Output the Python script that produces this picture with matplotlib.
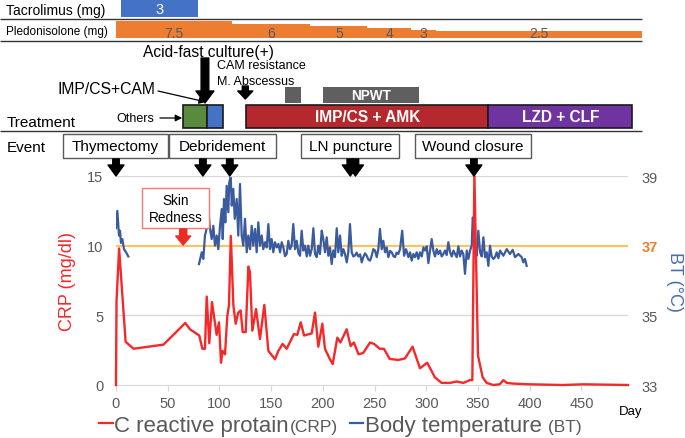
import matplotlib.pyplot as plt
from matplotlib.patches import Rectangle
from matplotlib.lines import Line2D
from matplotlib.offsetbox import AnchoredOffsetbox, HPacker, TextArea, DrawingArea

plt.rcParams['font.family'] = ['Liberation Sans', 'DejaVu Sans']

# ---------------- values ----------------
# C reactive protein (mg/dl)
crp_day = [0, 0.5, 3, 9.3, 17, 46, 67, 71.5, 80.5, 83.5,
           86, 87.7, 90.2, 92.8, 97.3, 99.6, 101.5, 103, 105.4, 107.6,
           109.2, 111, 113.5, 115.7, 118.2, 120.5, 122.5, 125.4, 128, 129.5,
           131.8, 135.4, 139.2, 143.4, 147.3, 153.7, 157, 161.1, 165, 172,
           175.3, 178.6, 181.8, 189.2, 192.4, 195.6, 199.5, 202, 206.5, 209.5,
           214, 217, 223, 226.8, 230, 234.5, 239, 245.6, 249.5, 255,
           259, 264.6, 272.8, 279.3, 286.7, 293.9, 300.9, 308.3, 314.8, 322.9,
           329.3, 335.8, 342.2, 344.5, 346.5, 350, 354.5, 358.4, 364.7, 371,
           374.5, 377.8, 384, 400, 432, 452, 495]
crp_val = [0, 6.0, 9.8, 3.1, 2.6, 2.9, 4.45, 4.0, 3.55, 2.6,
           2.6, 6.35, 3.0, 5.95, 3.6, 4.5, 1.6, 2.45, 2.2, 4.95,
           5.7, 10.7, 5.7, 4.4, 5.2, 5.35, 3.8, 3.8, 8.5, 8.1,
           3.9, 5.45, 3.3, 5.75, 2.45, 1.85, 2.45, 2.95, 2.6, 3.65,
           3.6, 4.5, 3.55, 3.7, 5.2, 2.75, 4.4, 2.6, 1.9, 1.5,
           3.4, 3.05, 4.0, 2.8, 3.05, 2.2, 2.3, 3.05, 2.95, 2.6,
           2.6, 1.87, 1.8, 1.9, 2.75, 1.2, 1.6, 0.55, 0.15, 0.15,
           0.25, 0.15, 0.35, 0.35, 15.0, 2.1, 0.55, 0.15, 0.0, 0.05,
           0.35, 0.15, 0.1, 0.05, 0.0, 0.05, 0.0]

# body temperature (deg C), two recorded periods
bt1_day = [0, 1.3, 2.9, 3.9, 4.8, 6.1, 7.7, 9.7, 11.9]
bt1_val = [37.5, 38.0, 37.29, 37.43, 37.08, 37.19, 36.9, 36.81, 36.69]

bt2_day = [80.2, 81.2, 82.9, 84.4, 86.0, 87.7, 89.2, 90.9, 92.5, 94.1,
           95.7, 97.4, 98.9, 100.6, 102.2, 103.2, 104.4, 105.7, 107.0, 108.6,
           109.5, 110.9, 111.9, 113.4, 114.8, 116.7, 118.2, 119.9, 121.5, 123.1,
           124.7, 126.4, 127.9, 129.6, 131.2, 132.7, 134.4, 136.0, 137.6, 139.2,
           140.9, 142.4, 144.1, 145.7, 147.3, 148.9, 150.5, 152.1, 153.7, 155.4,
           157.0, 158.6, 160.2, 161.8, 163.4, 165.0, 166.6, 168.2, 169.8, 171.4,
           173.1, 174.7, 176.3, 177.9, 179.5, 181.1, 182.7, 184.4, 185.9, 187.6,
           189.2, 190.8, 192.4, 194.0, 195.6, 197.2, 198.9, 200.4, 202.1, 203.7,
           205.3, 206.9, 208.5, 210.1, 211.7, 213.4, 214.9, 216.6, 218.2, 219.8,
           221.4, 223.1, 224.6, 226.2, 227.9, 229.4, 231.1, 232.7, 234.3, 236.0,
           237.6, 239.1, 240.8, 242.4, 244.0, 245.6, 247.2, 248.8, 250.4, 252.1,
           253.6, 255.2, 256.9, 258.4, 260.1, 261.7, 263.3, 265.0, 266.6, 268.2,
           269.7, 271.3, 272.9, 274.6, 276.7, 278.5, 280.4, 282.7, 284.3, 285.9,
           287.5, 289.1, 290.7, 292.3, 293.9, 295.6, 297.2, 298.8, 300.4, 302.0,
           303.6, 305.2, 306.8, 308.4, 310.1, 311.7, 313.3, 314.9, 316.5, 318.1,
           319.7, 321.3, 323.0, 324.6, 326.2, 327.8, 329.4, 331.0, 332.6, 334.2,
           335.8, 337.4, 339.1, 340.7, 342.3, 343.9, 344.9, 346.2, 347.4, 348.7,
           350.3, 352.0, 353.6, 355.2, 356.8, 358.4, 360.0, 361.6, 363.2, 364.8,
           366.5, 368.1, 369.7, 371.3, 374.5, 377.7, 380.9, 383.5, 385.8, 389.0,
           392.2, 393.8, 395.4, 397.0]
bt2_val = [36.47, 36.60, 36.81, 36.62, 37.29, 37.50, 38.05, 37.48, 37.19, 37.57,
           37.00, 37.29, 36.90, 37.57, 38.05, 37.19, 38.34, 37.67, 38.72, 37.96,
           38.82, 39.00, 38.15, 38.63, 37.77, 38.34, 37.29, 38.77, 37.29, 37.00,
           37.77, 36.81, 37.29, 36.90, 37.57, 37.00, 37.48, 36.81, 37.67, 37.00,
           37.29, 36.90, 37.10, 36.95, 37.62, 36.90, 37.19, 36.81, 37.10, 36.95,
           37.05, 36.81, 37.10, 36.95, 36.70, 36.76, 37.14, 36.90, 37.00, 37.62,
           36.90, 37.14, 36.80, 36.71, 37.43, 36.86, 37.00, 36.69, 37.00, 36.71,
           36.90, 37.50, 36.76, 36.67, 37.00, 36.76, 37.43, 37.19, 36.81, 37.24,
           36.71, 36.95, 36.47, 36.86, 36.67, 37.50, 36.81, 37.29, 36.71, 36.90,
           36.76, 36.52, 36.81, 37.62, 36.81, 36.69, 36.72, 36.80, 36.69, 36.75,
           36.52, 36.67, 36.78, 36.71, 36.60, 36.57, 36.71, 36.90, 36.86, 36.67,
           36.90, 37.48, 36.90, 37.14, 36.81, 36.95, 36.67, 36.85, 36.81, 36.70,
           36.67, 36.80, 36.76, 36.90, 37.43, 36.71, 36.90, 36.67, 36.81, 36.57,
           36.76, 36.67, 36.81, 36.62, 36.81, 36.69, 36.95, 36.86, 36.98, 36.50,
           36.86, 37.19, 36.86, 36.69, 36.90, 36.76, 36.86, 36.69, 36.76, 36.86,
           36.73, 37.10, 36.81, 36.69, 36.86, 36.76, 36.67, 36.98, 36.69, 36.86,
           36.76, 36.19, 36.86, 36.62, 36.86, 37.00, 37.81, 37.62, 36.95, 36.71,
           37.43, 36.81, 36.69, 37.24, 36.67, 36.81, 36.42, 37.00, 36.69, 36.62,
           36.67, 36.81, 36.64, 36.86, 36.71, 36.90, 36.76, 36.88, 36.67, 36.76,
           36.67, 36.52, 36.62, 36.42]

# drugs (days)
tac_start, tac_end, tac_dose = 5, 79, 3
pred_start = [0, 112, 188, 243, 285, 309]
pred_end = [112, 188, 243, 285, 309, 509]
pred_dose = [7.5, 6, 5, 4, 3, 2.5]

treat_start = [65, 88, 126, 360]
treat_end = [88, 103.5, 360, 499]
treat_label = ['', '', 'IMP/CS + AMK', 'LZD + CLF']
treat_color = ['#5A8A3C', '#4472C4', '#B5282E', '#7034A0']

npwt_start = [163, 200]
npwt_end = [179, 293]
npwt_label = ['', 'NPWT']

event_label = ['Thymectomy', 'Debridement', 'LN puncture', 'Wound closure']
event_left = [-51, 51, 179, 289]
event_right = [50, 155, 274, 401]
event_day = [0, 84, 110, 226.5, 231.5, 346]

acid_fast_day = 86
abscessus_day = 125
redness_day = 65

# ---------------- figure ----------------
W, H = 685, 439
x0, x1, y_top, y_bot = 116, 628, 177, 386
GRAY = '#595959'
RED = '#F5282A'
BLUE = '#3A5B9E'

fig = plt.figure(figsize=(W / 100, H / 100), dpi=100)
ax = fig.add_axes([x0 / W, 1 - y_bot / H, (x1 - x0) / W, (y_bot - y_top) / H])
ax2 = ax.twinx()
ax.set_zorder(ax2.get_zorder() + 1)
ax.patch.set_visible(False)

ax.set_xlim(0, 495)
ax.set_ylim(0, 15)
ax2.set_ylim(33, 39)

for y in [5, 15]:
    ax.axhline(y, color='#D9D9D9', lw=1, zorder=0.5)
ax2.axhline(37, color='#F8C46A', lw=1.6, zorder=1)

ax.plot(crp_day, crp_val, color=RED, lw=1.7, zorder=3, clip_on=False)
ax2.plot(bt1_day, bt1_val, color=BLUE, lw=1.6, zorder=2)
ax2.plot(bt2_day, bt2_val, color=BLUE, lw=1.6, zorder=2)

for s in ax.spines.values():
    s.set_visible(False)
for s in ax2.spines.values():
    s.set_visible(False)
ax.spines['bottom'].set_visible(True)
ax.spines['bottom'].set_color('#D9D9D9')

ax.set_xticks(range(0, 451, 50))
ax.set_yticks([0, 5, 10, 15])
ax2.set_yticks([33, 35, 37, 39])
ax.tick_params(axis='x', length=4, color='#D9D9D9', labelcolor=GRAY, labelsize=10.5, pad=4)
ax.tick_params(axis='y', length=0, labelcolor=GRAY, labelsize=10.5, pad=9)
ax2.tick_params(axis='y', length=0, labelcolor=GRAY, labelsize=10.5, pad=10)
t37 = ax2.get_yticklabels()[2]
t37.set_color('#ED7D31')
t37.set_fontweight('bold')

# ---------------- overlay for the timeline rows ----------------
ann = fig.add_axes([0, 0, 1, 1], zorder=5)
ann.patch.set_visible(False)
ann.axis('off')
span = 495 / (x1 - x0)
ann.set_xlim(-x0 * span, (W - x0) * span)
ann.set_ylim(H, 0)
lab = ann.get_yaxis_transform()
left_edge = ann.get_xlim()[0]
mid_y = (y_top + y_bot) / 2

# axis titles
ann.text(67 / W, mid_y, 'CRP (mg/dl)', transform=lab, color=RED, fontsize=13,
         rotation=90, ha='center', va='center')
ann.text(674 / W, mid_y, 'BT (°C)', transform=lab, color='#4A6DB0', fontsize=13,
         rotation=270, ha='center', va='center')

# Tacrolimus / Prednisolone rows
ann.text(6 / W, 10.5, 'Tacrolimus (mg)', transform=lab, fontsize=10, va='center')
ann.bar(tac_start, 18.3, width=tac_end - tac_start, bottom=0, align='edge', color='#4472C4')
ann.text((tac_start + tac_end) / 2, 9.5, str(tac_dose), color='white',
         ha='center', va='center', fontsize=10.5)

ann.text(6 / W, 32, 'Pledonisolone (mg)', transform=lab, fontsize=8.5, va='center')
pred_h = [-(1.85 + 1.94 * d) for d in pred_dose]
pred_w = [e - s for s, e in zip(pred_start, pred_end)]
ann.bar(pred_start, pred_h, width=pred_w, bottom=38.7, align='edge', color='#ED7D31')
for s, e, d in zip(pred_start, pred_end, pred_dose):
    ann.text((s + e) / 2, 33.5, format(d, 'g'), color=GRAY, ha='center',
             va='center', fontsize=10)

ann.hlines([20, 42.3, 132], left_edge, 509, colors='#333333', lw=1)


def down_arrow(x, ya, yb, tail, head_w, head_l, color='black'):
    k = 72 / 100
    style = 'simple,head_length=%g,head_width=%g,tail_width=%g' % (head_l * k, head_w * k, tail * k)
    ann.annotate('', xy=(x, yb), xytext=(x, ya),
                 arrowprops=dict(arrowstyle=style, color=color, shrinkA=0,
                                 shrinkB=0, mutation_scale=1))


# Treatment row
ann.text(7 / W, 123, 'Treatment', transform=lab, fontsize=11, va='center')
tw = [e - s for s, e in zip(treat_start, treat_end)]
ann.bar(treat_start, 23, width=tw, bottom=106, align='edge', color=treat_color,
        edgecolor='#1A1A1A', linewidth=1.2)
for s, e, t in zip(treat_start, treat_end, treat_label):
    ann.text((s + e) / 2, 118, t, color='white', fontweight='bold',
             ha='center', va='center', fontsize=11.2)

nw = [e - s for s, e in zip(npwt_start, npwt_end)]
ann.bar(npwt_start, 16, width=nw, bottom=88, align='edge', color='#5F5F5F')
for s, e, t in zip(npwt_start, npwt_end, npwt_label):
    ann.text((s + e) / 2, 96.5, t, color='white', fontweight='bold',
             ha='center', va='center', fontsize=9.8)

ann.text(acid_fast_day + 3, 53, 'Acid-fast culture(+)', ha='center', va='center', fontsize=11.2)
down_arrow(acid_fast_day, 59, 104, 7.7, 18, 12)
ann.text(abscessus_day - 27, 66, 'CAM resistance', va='center', fontsize=9)
ann.text(abscessus_day - 27, 82, 'M. Abscessus', va='center', fontsize=9)
down_arrow(abscessus_day, 87, 100, 6, 15, 8)

ann.text(37.7, 90, 'IMP/CS+CAM', ha='right', va='center', fontsize=11.3)
ann.annotate('', xy=(acid_fast_day + 1, 103), xytext=(40.6, 92),
             arrowprops=dict(arrowstyle='-|>,head_length=0.4,head_width=0.2',
                             color='black', lw=0.9, shrinkA=0, shrinkB=0))
ann.text(36.5, 119, 'Others', ha='right', va='center', fontsize=9)
ann.annotate('', xy=(treat_start[0] - 1, 119), xytext=(42.5, 119),
             arrowprops=dict(arrowstyle='-|>,head_length=0.4,head_width=0.2',
                             color='black', lw=0.9, shrinkA=0, shrinkB=0))

# Event row
ann.text(7 / W, 148, 'Event', transform=lab, fontsize=11, va='center')
for t, l, r in zip(event_label, event_left, event_right):
    ann.add_patch(Rectangle((l, 135), r - l, 24, fc='white', ec=GRAY, lw=1))
    ann.text((l + r) / 2, 147.5, t, ha='center', va='center', fontsize=11)
for d in event_day:
    down_arrow(d, 160, 177, 6.5, 16, 11)

# skin redness
ann.add_patch(Rectangle((25.1, 189), 64.9, 40, fc='white', ec='#EF7B73', lw=1))
ann.text(57.5, 209.5, 'Skin\nRedness', ha='center', va='center', fontsize=9.8,
         linespacing=1.25)
down_arrow(redness_day, 230, 246, 7, 15, 9, color='#EE2A24')

ann.text(486, 412, 'Day', fontsize=9.5, va='center')


# legend with mixed font sizes
def handle(color):
    da = DrawingArea(10, 14, 0, 0)
    da.add_artist(Line2D([0, 10], [5.5, 5.5], color=color, lw=1.6))
    return da


items = [handle(RED),
         TextArea('C reactive protain', textprops=dict(size=16, color=GRAY)),
         TextArea('(CRP)', textprops=dict(size=12.5, color=GRAY)),
         DrawingArea(6, 1, 0, 0),
         handle(BLUE),
         TextArea('Body temperature', textprops=dict(size=16, color=GRAY)),
         TextArea(' (BT)', textprops=dict(size=12.5, color=GRAY))]
row = HPacker(children=items, align='baseline', pad=0, sep=1)
box = AnchoredOffsetbox(loc='lower left', child=row, pad=0, borderpad=0, frameon=False,
                        bbox_to_anchor=(99 / W, 2 / H), bbox_transform=fig.transFigure)
ann.add_artist(box)

fig.savefig('out.png', dpi=100, facecolor='white')
